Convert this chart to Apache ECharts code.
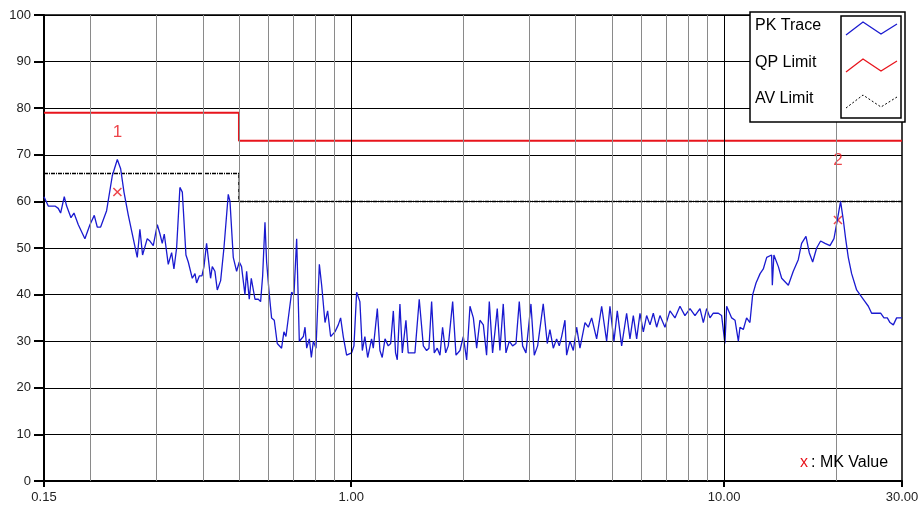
<!DOCTYPE html>
<html>
<head>
<meta charset="utf-8">
<script src="https://cdn.jsdelivr.net/npm/echarts@6/dist/echarts.min.js"></script>
<style>html,body{margin:0;padding:0;background:#fff}#chart{width:924px;height:517px}</style>
</head>
<body>
<div id="chart"></div>
<script>
// frequency in MHz, level in dBuV
var pkFreq = [0.150,0.154,0.1605,0.1638,0.1662,0.170,0.1725,0.1772,0.1805,0.1854,0.1931,0.1992,0.2046,0.2084,0.2128,0.2208,0.2287,0.2359,0.2408,0.2458,
  0.2525,0.2603,0.2668,0.2712,0.2757,0.2838,0.2885,0.2945,0.302,0.307,0.3113,0.3152,0.3231,0.3299,0.3346,0.3402,0.3472,0.3524,0.3604,0.3656,
  0.3748,0.3811,0.3849,0.3914,0.3978,0.4028,0.4094,0.4196,0.424,0.431,0.4373,0.4465,0.4557,0.468,0.473,0.4827,0.4928,0.501,0.508,0.5188,
  0.5242,0.5328,0.5395,0.552,0.5634,0.5715,0.5787,0.5871,0.5931,0.603,0.6116,0.6218,0.6334,0.6505,0.66,0.6683,0.6921,0.7022,0.714,0.7258,
  0.7441,0.7518,0.7597,0.7722,0.7818,0.7916,0.8046,0.8214,0.8332,0.8506,0.8645,0.8806,0.9045,0.9232,0.9367,0.9521,0.972,1.0025,1.017,1.034,
  1.055,1.071,1.088,1.107,1.134,1.146,1.175,1.194,1.211,1.232,1.257,1.276,1.297,1.315,1.329,1.351,1.371,1.402,1.422,1.482,
  1.522,1.561,1.593,1.616,1.643,1.670,1.701,1.730,1.758,1.792,1.821,1.871,1.910,1.957,
  1.998,2.040,2.082,2.126,2.170,2.214,2.261,2.307,2.346,2.394,2.429,2.464,2.505,2.557,2.600,2.654,2.709,2.766,2.823,2.882,
  2.942,3.034,3.097,3.162,3.273,3.356,3.411,3.483,3.555,3.614,3.667,3.743,3.782,3.861,3.941,4.023,4.106,4.236,4.324,4.414,
  4.552,4.695,4.842,4.942,5.066,5.171,5.312,5.478,5.592,5.709,5.828,5.949,6.073,6.198,6.328,6.459,6.594,6.730,6.941,7.159,
  7.383,7.615,7.852,8.101,8.355,8.617,8.796,8.980,9.165,9.354,9.649,9.849,10.05,10.16,10.48,10.70,10.92,11.03,11.26,11.49,
  11.73,11.93,12.18,12.49,12.74,13.01,13.41,13.47,13.60,13.98,14.27,14.87,15.33,15.81,16.14,16.58,16.92,17.28,17.71,18.15,
  18.65,19.23,19.71,20.12,20.53,20.88,21.18,21.53,21.98,22.67,23.14,23.87,24.37,24.87,25.65,26.29,26.84,27.40,27.86,28.44,
  29.02,30.0];
var pkLevel = [61,59,59,58.5,57.5,61,59,56.5,57.5,55,52,55,57,54.5,54.5,58,65.5,69,67,62,
  57,52,48,54,48.5,52,51.5,50.5,55,53,51,53,46.5,49,45.5,50,63,62,48.5,47,
  43.5,44.5,42.5,44,44,46,51,43.5,46,45,41,43,50,61.5,60,48,45,47,46,40,
  45,39,43.5,39,39,38.5,44,55.5,47,40,35,34.5,29.5,28.5,32,31,40.5,40,52,30,
  31,33,28.5,30.5,26.5,30,28.5,46.5,42,34,36.5,31,32,33.5,35,31,27,27.5,29,40.5,
  38.5,28,31,26.5,30.5,28.5,37,28,26.5,30.5,29,29.5,36.5,27.5,26,38,27.5,34.5,27.5,27.5,
  39,29,28,28.5,38.5,27.5,28.5,27,33,27.5,29,38.5,27,28,
  31,26,37.5,35,28.5,34.5,33.5,27,38.5,27.5,32,37,28,38,27.5,30,29,29.5,38.5,29,
  27.5,38,27,29,38,29.5,32.5,28.5,30.5,29,31,34.5,27,30,28,33,28.5,34,33,35,
  30.5,37.5,30,37.5,30,36.5,29,36,30.5,35.5,30.5,36,32,35.5,33.5,36,33,35.5,33,36.5,
  35,37.5,35.5,37,35.5,37,34,37,35,36,36,35.5,29.5,37.5,35,34.5,30,33,32.5,35,
  34,40,42.5,44.5,45.5,48,48.5,42,48.5,46,43.5,42,45,47.5,51,52.5,49,47,50,51.5,
  51,50.5,52,56,60,56,52,48,44.5,41,40,38.5,37.5,36,36,36,35,35,34,33.5,
  35,35];
var qpLimit = [[0.15,79],[0.5,79],[0.5,73],[30,73]];
var avLimit = [[0.15,66],[0.5,66],[0.5,60],[30,60]];
var markers = [[0.236,62,'1'],[20.2,56,'2']];
var xLabels = [0.15,1,10,30];
var minorGrid = [0.2,0.3,0.4,0.5,0.6,0.7,0.8,0.9,2,3,4,5,6,7,8,9,20];
var majorGrid = [1,10];

var chart = echarts.init(document.getElementById('chart'));
var pk = pkFreq.map(function (f, i) { return [f, pkLevel[i]]; });
var font = 'Liberation Sans';

function zig(dy) {
  return [[846, 35 + dy], [863, 22 + dy], [881, 34 + dy], [897, 24 + dy]];
}

var option = {
  animation: false,
  grid: { left: 44, right: 22, top: 15, bottom: 36, show: true, borderColor: '#000', borderWidth: 1.5 },
  xAxis: {
    type: 'log', logBase: 10, min: 0.15, max: 30,
    axisLine: { lineStyle: { color: '#000', width: 2 } },
    axisTick: { customValues: xLabels, length: 6, lineStyle: { color: '#000', width: 2 } },
    axisLabel: { customValues: xLabels, color: '#222', fontFamily: font, fontSize: 13, margin: 10,
      formatter: function (v) { return (+v).toFixed(2); } },
    splitLine: { show: false },
    minorTick: { show: false }, minorSplitLine: { show: false }
  },
  yAxis: {
    type: 'value', min: 0, max: 100, interval: 10,
    axisLine: { show: true, lineStyle: { color: '#000', width: 2 } },
    axisTick: { show: true, length: 10, lineStyle: { color: '#000', width: 2 } },
    axisLabel: { color: '#222', fontFamily: font, fontSize: 13, margin: 13 },
    splitLine: { lineStyle: { color: '#000', width: 1 } }
  },
  series: [
    {
      type: 'line', data: [], silent: true,
      markLine: {
        silent: true, symbol: 'none', label: { show: false },
        data: minorGrid.map(function (v) { return { xAxis: v, lineStyle: { color: '#8a8a8a', width: 1, type: 'solid' } }; })
          .concat(majorGrid.map(function (v) { return { xAxis: v, lineStyle: { color: '#000', width: 1, type: 'solid' } }; }))
      }
    },
    { name: 'QP Limit', type: 'line', data: qpLimit, symbol: 'none', lineStyle: { color: '#e8141c', width: 2 } },
    { name: 'AV Limit', type: 'line', data: avLimit, symbol: 'none', lineStyle: { color: '#000', width: 1.5, type: [4, 1, 1, 1] } },
    { name: 'PK Trace', type: 'line', data: pk, symbol: 'none', lineStyle: { color: '#1a1ad0', width: 1.3 } },
    {
      type: 'scatter', data: markers, symbol: 'path://M0,0L10,10M10,0L0,10', symbolSize: 8,
      itemStyle: { color: 'none', borderColor: '#e8141c', borderWidth: 1.5 },
      label: { show: true, position: 'top', offset: [0, -40], color: '#e8141c', fontFamily: font, fontSize: 17,
        formatter: function (p) { return p.data[2]; } }
    }
  ],
  graphic: [
    { type: 'rect', shape: { x: 750, y: 12, width: 155, height: 110 }, style: { fill: '#fff', stroke: '#000', lineWidth: 1.5 }, z: 100 },
    { type: 'rect', shape: { x: 841, y: 16, width: 60, height: 102 }, style: { fill: '#fff', stroke: '#000', lineWidth: 1.5 }, z: 101 },
    { type: 'text', left: 755, top: 18, style: { text: 'PK Trace', fontFamily: font, fontSize: 16, fill: '#000' }, z: 102 },
    { type: 'text', left: 755, top: 55, style: { text: 'QP Limit', fontFamily: font, fontSize: 16, fill: '#000' }, z: 102 },
    { type: 'text', left: 755, top: 91, style: { text: 'AV Limit', fontFamily: font, fontSize: 16, fill: '#000' }, z: 102 },
    { type: 'polyline', shape: { points: zig(0) }, style: { stroke: '#1a1ad0', lineWidth: 1.3, fill: null }, z: 102 },
    { type: 'polyline', shape: { points: zig(37) }, style: { stroke: '#e8141c', lineWidth: 1.3, fill: null }, z: 102 },
    { type: 'polyline', shape: { points: zig(73) }, style: { stroke: '#000', lineWidth: 1, lineDash: [2, 2], fill: null }, z: 102 },
    { type: 'text', left: 800, top: 455, style: { text: 'x', fontFamily: font, fontSize: 16, fill: '#e8141c' }, z: 102 },
    { type: 'text', left: 811, top: 455, style: { text: ': MK Value', fontFamily: font, fontSize: 16, fill: '#000' }, z: 102 }
  ]
};
chart.setOption(option);
</script>
</body>
</html>
